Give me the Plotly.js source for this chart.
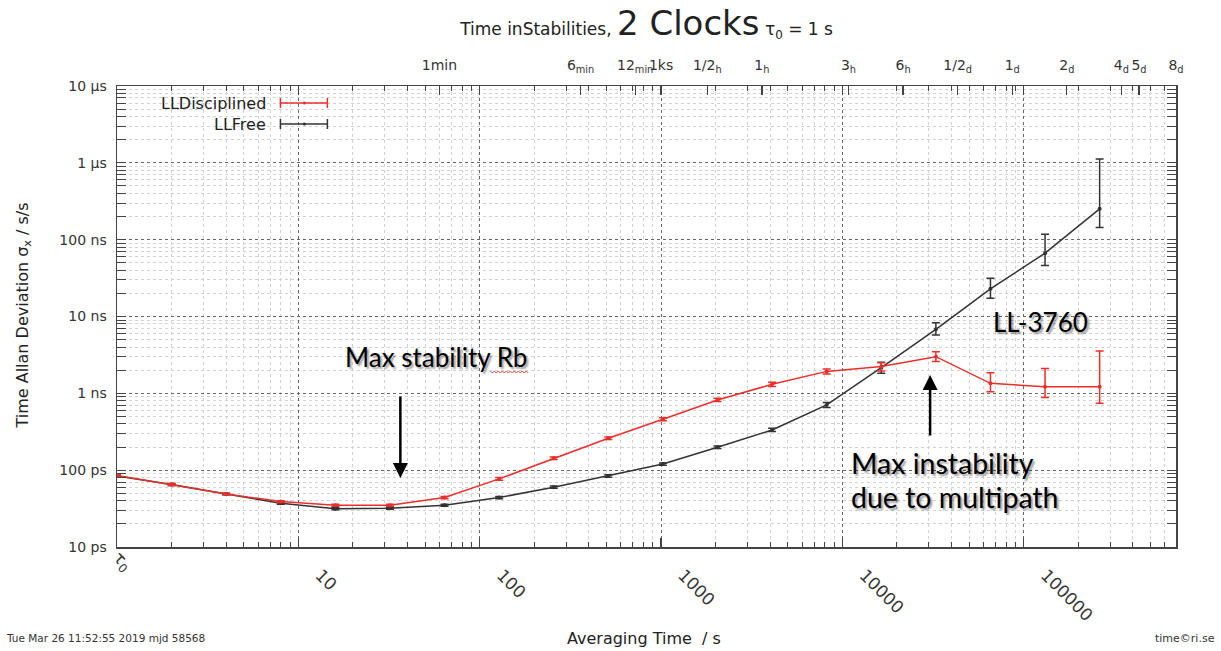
<!DOCTYPE html>
<html><head><meta charset="utf-8">
<script src="https://cdn.plot.ly/plotly-3.0.1.min.js"></script>
<style>html,body{margin:0;padding:0;background:#fff}</style>
</head><body><div id="chart" style="width:1221px;height:651px"></div>
<script>
// Averaging times (s)
const tau = [1,2,4,8,16,32,64,128,256,512,1024,2048,4096,8192,16384,32768,65536,131072,262144];
// Time Allan deviation, in ns
const freeDev   = [0.084,0.065,0.049,0.037,0.0315,0.032,0.035,0.044,0.060,0.084,0.120,0.199,0.333,0.706,2.16,6.8,22.9,66.7,252];
const freeUpper = [0.087,0.067,0.050,0.038,0.0325,0.033,0.036,0.0455,0.062,0.087,0.124,0.207,0.350,0.76,2.54,8.3,31.5,118,1120];
const freeLower = [0.081,0.063,0.048,0.036,0.0305,0.031,0.034,0.0425,0.058,0.081,0.116,0.191,0.318,0.655,1.83,5.75,17.3,46,144];
const discDev   = [0.085,0.065,0.049,0.039,0.035,0.035,0.044,0.077,0.143,0.260,0.460,0.820,1.31,1.93,2.23,3.0,1.35,1.22,1.22];
const discUpper = [0.088,0.067,0.050,0.040,0.036,0.036,0.0455,0.080,0.148,0.270,0.480,0.860,1.39,2.07,2.51,3.49,1.86,2.10,3.56];
const discLower = [0.082,0.063,0.048,0.038,0.034,0.034,0.0425,0.074,0.138,0.250,0.440,0.780,1.23,1.79,1.96,2.59,1.05,0.88,0.743];

// Tick labels
const xTickVals = [1,10,100,1000,10000,100000];
const xTickText = ['','10','100','1000','10000','100000'];
const tau0Label = 'τ<sub>0</sub>';
const yTickVals = [0.01,0.1,1,10,100,1000,10000];
const yTickText = ['10 ps','100 ps','1 ns','10 ns','100 ns','1 µs','10 µs'];
const topTickVals = [60,360,720,1000,1800,3600,10800,21600,43200,86400,172800,345600,432000,691200];
const topTickText = ['1min','6<sub>min</sub>','12<sub>min</sub>','1ks','1/2<sub>h</sub>','1<sub>h</sub>','3<sub>h</sub>','6<sub>h</sub>','1/2<sub>d</sub>','1<sub>d</sub>','2<sub>d</sub>','4<sub>d</sub>','5<sub>d</sub>','8<sub>d</sub>'];

const seriesNames = ['LLDisciplined','LLFree'];
const RED = '#ea2e2a', BLACK = '#333333';

function minorVals(lo, hi){ const v=[]; for(let k=lo;k<hi;k++){ for(let m=2;m<=9;m++) v.push(m*Math.pow(10,k)); } return v; }

function errTrace(name, y, up, lo, color){
  return {
    x: tau, y: y, name: name, type:'scatter', mode:'lines+markers',
    line:{color:color, width:1.5}, marker:{color:color, size:4},
    error_y:{type:'data', symmetric:false,
      array: up.map((u,i)=>u-y[i]), arrayminus: y.map((v,i)=>v-lo[i]),
      color:color, thickness:1.5, width:4},
    showlegend:false, hoverinfo:'x+y'
  };
}

const traces = [
  errTrace(seriesNames[1], freeDev, freeUpper, freeLower, BLACK),
  errTrace(seriesNames[0], discDev, discUpper, discLower, RED),
  {x: tau, y: freeDev, xaxis:'x2', yaxis:'y', mode:'markers', marker:{opacity:0}, showlegend:false, hoverinfo:'skip'}
];

const FONT = 'DejaVu Sans';
const AXCOL = '#444';
const L = 116.5, R = 1176, T = 86, B = 547;
const px = x => (x - L)/(R - L);
const py = y => (B - y)/(B - T);

const annFont = (s)=>({family:'Lato', size:s, color:'#000', shadow:'2px 2px 2px rgba(0,0,0,0.4)'});

function legendShapes(y, color){
  const yy = py(y), h = 5/(B-T);
  return [
    {type:'line', xref:'paper', yref:'paper', x0:px(280), x1:px(327), y0:yy, y1:yy, line:{color:color, width:1.5}},
    {type:'line', xref:'paper', yref:'paper', x0:px(280), x1:px(280), y0:yy-h, y1:yy+h, line:{color:color, width:1.5}},
    {type:'line', xref:'paper', yref:'paper', x0:px(327), x1:px(327), y0:yy-h, y1:yy+h, line:{color:color, width:1.5}},
    {type:'circle', xref:'paper', yref:'paper', x0:px(302.5), x1:px(305.5), y0:yy-1.5/(B-T), y1:yy+1.5/(B-T), fillcolor:color, line:{color:color, width:0}}
  ];
}
// spell-check style squiggle under "Rb"
function squiggle(x0, x1, y){
  let d = 'M ' + px(x0) + ' ' + py(y);
  let k = 0;
  for (let x = x0 + 2; x <= x1; x += 2, k++) d += ' L ' + px(x) + ' ' + py(y + (k % 2 ? 0 : 2));
  return {type:'path', xref:'paper', yref:'paper', path:d, line:{color:'#e04040', width:1}};
}

const layout = {
  width:1221, height:651,
  margin:{l:L, r:1221-R, t:T, b:651-B},
  paper_bgcolor:'#fff', plot_bgcolor:'#fff',
  showlegend:false,
  font:{family:FONT, color:'#222'},
  title:{text:'Time inStabilities, <span style="font-size:34px">2 Clocks</span> τ<sub>0</sub> = 1 s',
    font:{family:FONT, size:17, color:'#222'}, xref:'paper', x:0.5, xanchor:'center', yref:'container', y:1-29/651, yanchor:'middle'},
  xaxis:{type:'log', range:[0, Math.log10(691200)], autorange:false,
    tickmode:'array', tickvals:xTickVals, ticktext:xTickText, tickangle:45,
    tickfont:{family:FONT, size:17, color:'#333'},
    ticks:'inside', ticklen:9, tickcolor:AXCOL, tickwidth:1.2,
    showline:true, linecolor:AXCOL, linewidth:1.5, mirror:'allticks',
    showgrid:true, gridcolor:'#666', griddash:'dot', gridwidth:1,
    minor:{tickmode:'array', tickvals:minorVals(0,6), ticks:'inside', ticklen:5, tickcolor:AXCOL, tickwidth:1,
      showgrid:true, gridcolor:'#d2d2d2', griddash:'dot', gridwidth:1},
    zeroline:false, ticklabelstandoff:10, ticklabelshift:22},
  xaxis2:{type:'log', overlaying:'x', side:'top', anchor:'y', range:[0, Math.log10(691200)], autorange:false,
    tickmode:'array', tickvals:topTickVals, ticktext:topTickText, tickangle:0,
    tickfont:{family:FONT, size:14, color:'#333'},
    ticks:'inside', ticklen:9, tickcolor:AXCOL, tickwidth:1.2, showgrid:false, showline:false, zeroline:false,
    ticklabelstandoff:12},
  yaxis:{type:'log', range:[-2,4], autorange:false,
    tickmode:'array', tickvals:yTickVals, ticktext:yTickText,
    tickfont:{family:FONT, size:14, color:'#333'},
    ticks:'inside', ticklen:9, tickcolor:AXCOL, tickwidth:1.2,
    showline:true, linecolor:AXCOL, linewidth:1.5, mirror:'allticks',
    showgrid:true, gridcolor:'#666', griddash:'dot', gridwidth:1,
    minor:{tickmode:'array', tickvals:minorVals(-2,4), ticks:'inside', ticklen:5, tickcolor:AXCOL, tickwidth:1,
      showgrid:true, gridcolor:'#d2d2d2', griddash:'dot', gridwidth:1},
    zeroline:false, ticklabelstandoff:6},
  shapes:[].concat(legendShapes(103, RED), legendShapes(124, BLACK), [squiggle(490, 528, 371)]),
  annotations:[
    {xref:'paper', yref:'paper', x:px(268), y:py(103), xanchor:'right', yanchor:'middle', text:seriesNames[0], showarrow:false, font:{family:FONT, size:16, color:'#222'}},
    {xref:'paper', yref:'paper', x:px(268), y:py(124), xanchor:'right', yanchor:'middle', text:seriesNames[1], showarrow:false, font:{family:FONT, size:16, color:'#222'}},
    {xref:'paper', yref:'paper', x:px(122), y:py(562), xanchor:'center', yanchor:'middle', textangle:45, text:tau0Label, showarrow:false, font:{family:FONT, size:17, color:'#333'}},
    {xref:'paper', yref:'paper', x:px(644), y:py(638), xanchor:'center', yanchor:'middle', text:'Averaging Time  / s', showarrow:false, font:{family:FONT, size:16, color:'#222'}},
    {xref:'paper', yref:'paper', x:px(22), y:py(316), xanchor:'center', yanchor:'middle', textangle:-90, text:'Time Allan Deviation σ<sub>x</sub> / s/s', showarrow:false, font:{family:FONT, size:16, color:'#222'}},
    {xref:'paper', yref:'paper', x:px(3), y:py(638), xanchor:'left', yanchor:'middle', text:'Tue Mar 26 11:52:55 2019 mjd 58568', showarrow:false, font:{family:FONT, size:10.5, color:'#333'}},
    {xref:'paper', yref:'paper', x:px(1217), y:py(638), xanchor:'right', yanchor:'middle', text:'time©ri.se', showarrow:false, font:{family:FONT, size:11, color:'#333'}},
    {xref:'paper', yref:'paper', x:px(343), y:py(357), xanchor:'left', yanchor:'middle', text:'Max stability Rb', showarrow:false, font:annFont(26)},
    {xref:'paper', yref:'paper', x:px(991), y:py(322), xanchor:'left', yanchor:'middle', text:'LL-3760', showarrow:false, font:annFont(26)},
    {xref:'paper', yref:'paper', x:px(849), y:py(463), xanchor:'left', yanchor:'middle', text:'Max instability', showarrow:false, font:annFont(28.5)},
    {xref:'paper', yref:'paper', x:px(849), y:py(497), xanchor:'left', yanchor:'middle', text:'due to multipath', showarrow:false, font:annFont(28.5)},
    {xref:'paper', yref:'paper', x:px(400), y:py(478), text:'', showarrow:true, ax:0, ay:-83, arrowhead:2, arrowsize:1.2, arrowwidth:2.5, arrowcolor:'#000', standoff:0},
    {xref:'paper', yref:'paper', x:px(930), y:py(375), text:'', showarrow:true, ax:0, ay:62, arrowhead:2, arrowsize:1.2, arrowwidth:2.5, arrowcolor:'#000', standoff:0}
  ]
};

Plotly.newPlot('chart', traces, layout, {displayModeBar:false, staticPlot:true});
</script>
</body></html>
